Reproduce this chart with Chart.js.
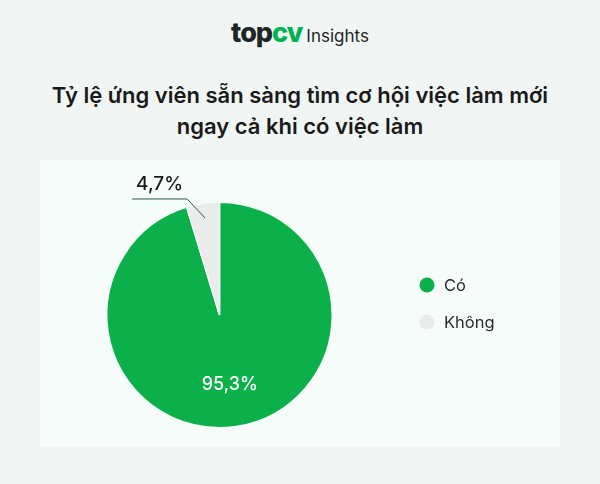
<!DOCTYPE html>
<html>
<head>
<meta charset="utf-8">
<script src="https://cdn.jsdelivr.net/npm/chart.js@4"></script>
<style>
  html, body { margin: 0; padding: 0; }
  body {
    width: 600px; height: 484px; overflow: hidden;
    background: #f1f6f4; position: relative;
    font-family: Inter, "Noto Sans", sans-serif;
  }
  .logo {
    position: absolute; top: 16px; left: 0; width: 600px;
    text-align: center; color: #1d2626;
  }
  .logo .brand { font-size: 27px; font-weight: 800; letter-spacing: -1px; }
  .logo .brand span { color: #00b14f; }
  .logo .sub { font-size: 17px; font-weight: 400; margin-left: 4px; }
  .title {
    position: absolute; top: 80px; left: 0; width: 600px;
    text-align: center; font-size: 22px; font-weight: 600;
    line-height: 31px; color: #1a1a1a;
  }
  .panel {
    position: absolute; left: 40px; top: 160px; width: 520px; height: 287px;
    background: #f6fcf9;
  }
</style>
</head>
<body>
<div class="logo"><span class="brand">top<span>cv</span></span><span class="sub">Insights</span></div>
<div class="title">Tỷ lệ ứng viên sẵn sàng tìm cơ hội việc làm mới<br>ngay cả khi có việc làm</div>
<div class="panel"><canvas id="pie" width="520" height="287"></canvas></div>
<script>
// Dữ liệu
const labels = ['Có', 'Không'];
const values = [95.3, 4.7];
const valueLabels = ['95,3%', '4,7%'];
const colors = ['#0cb04a', '#e9ecea'];

// Etiquetas de porcentaje
const sliceLabels = {
  id: 'sliceLabels',
  afterDatasetsDraw(chart) {
    const ctx = chart.ctx;
    const arcs = chart.getDatasetMeta(0).data;
    ctx.save();
    ctx.font = '500 18px Inter, "Noto Sans", sans-serif';
    ctx.textAlign = 'center';
    ctx.textBaseline = 'middle';

    // 95,3% dentro
    const big = arcs[0];
    const mid0 = (big.startAngle + big.endAngle) / 2;
    ctx.fillStyle = '#ffffff';
    ctx.fillText(valueLabels[0], big.x + Math.cos(mid0) * big.outerRadius * 0.62,
                 big.y + Math.sin(mid0) * big.outerRadius * 0.62);

    // 4,7% con línea guía
    const small = arcs[1];
    const mid1 = (small.startAngle + small.endAngle) / 2;
    const ix = small.x + Math.cos(mid1) * small.outerRadius * 0.87;
    const iy = small.y + Math.sin(mid1) * small.outerRadius * 0.87;
    const ex = ix - 18, ey = iy - 19;
    const fx = ex - 55;
    ctx.strokeStyle = '#2f5b45';
    ctx.lineWidth = 1;
    ctx.beginPath();
    ctx.moveTo(ix, iy);
    ctx.lineTo(ex, ey);
    ctx.lineTo(fx, ey);
    ctx.stroke();
    ctx.fillStyle = '#1a1a1a';
    ctx.textBaseline = 'alphabetic';
    ctx.font = '500 19px Inter, "Noto Sans", sans-serif';
    ctx.fillText(valueLabels[1], (ex + fx) / 2, ey - 9);

    // Leyenda
    ctx.font = '400 16.5px Inter, "Noto Sans", sans-serif';
    ctx.textAlign = 'left';
    ctx.textBaseline = 'middle';
    const lx = 387, ly = [125, 162];
    labels.forEach((name, i) => {
      ctx.fillStyle = colors[i];
      ctx.beginPath();
      ctx.arc(lx, ly[i], 7.5, 0, Math.PI * 2);
      ctx.fill();
      ctx.fillStyle = '#2a2a2a';
      ctx.fillText(name, lx + 17, ly[i] + 1);
    });
    ctx.restore();
  }
};

new Chart(document.getElementById('pie').getContext('2d'), {
  type: 'pie',
  data: {
    labels: labels,
    datasets: [{
      data: values,
      backgroundColor: colors,
      borderColor: '#f6fcf9',
      borderWidth: 1.5
    }]
  },
  options: {
    responsive: false,
    animation: false,
    layout: { padding: { left: 66, right: 227, top: 41, bottom: 18 } },
    plugins: {
      legend: { display: false },
      tooltip: { enabled: false }
    }
  },
  plugins: [sliceLabels]
});
</script>
</body>
</html>
